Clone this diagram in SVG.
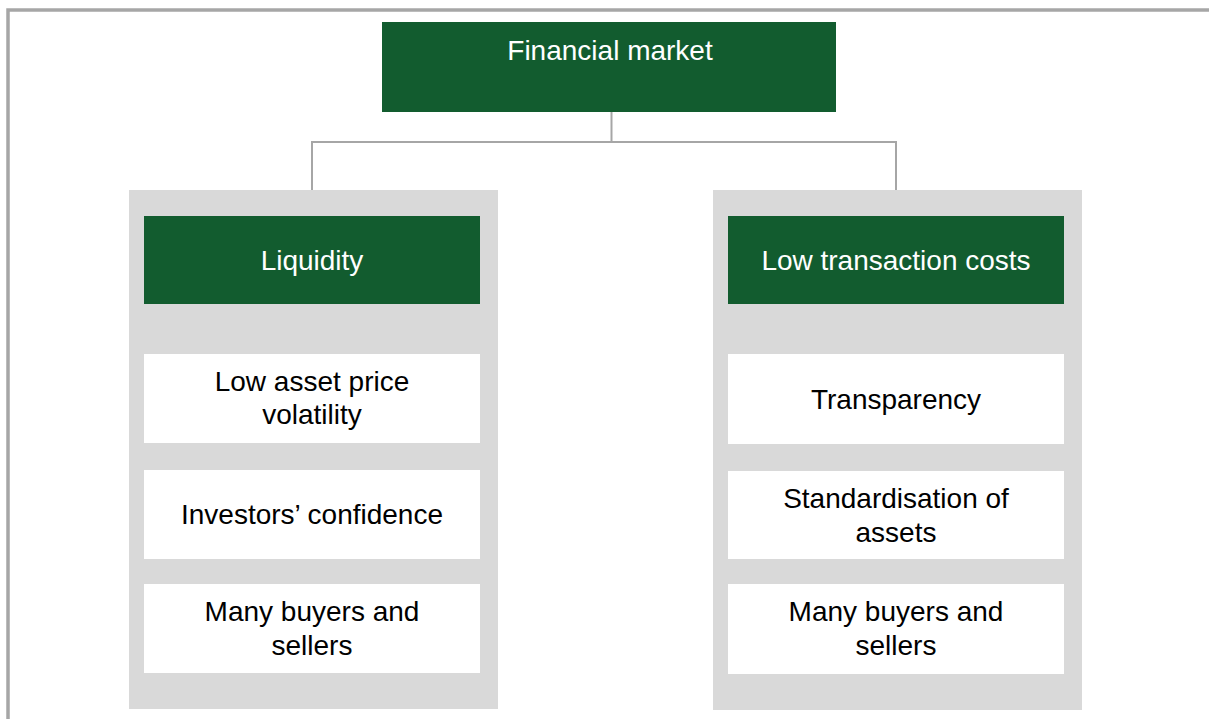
<svg xmlns="http://www.w3.org/2000/svg" width="1209" height="719" viewBox="0 0 1209 719">
<style>
.frame{fill:none;stroke:#a6a6a6;stroke-width:3.5}
.col{fill:#d9d9d9}
.hdr{fill:#125c2f}
.item{fill:#ffffff}
.conn{fill:none;stroke:#a6a6a6;stroke-width:2}
text{font-family:"Liberation Sans",Arial,sans-serif;font-size:28px;text-anchor:middle}
.w{fill:#ffffff}
.b{fill:#000000}
</style>
<rect width="1209" height="719" fill="#ffffff"/>
<path class="frame" d="M8,719 V10 H1212"/>
<g id="connectors">
<path class="conn" d="M611.5,112 V142"/>
<path class="conn" d="M312,190 V142 H896 V190"/>
</g>
<g id="financial-market">
<rect class="hdr" x="382" y="22" width="454" height="90"/>
<text class="w" x="610" y="60">Financial market</text>
</g>
<g id="liquidity-column">
<rect class="col" x="129" y="190" width="369" height="519"/>
</g>
<g id="liquidity">
<rect class="hdr" x="144" y="216" width="336" height="88"/>
<text class="w" x="312" y="270">Liquidity</text>
</g>
<g id="low-volatility">
<rect class="item" x="144" y="354" width="336" height="89"/>
<text class="b" x="312" y="391">Low asset price</text>
<text class="b" x="312" y="424">volatility</text>
</g>
<g id="investors-confidence">
<rect class="item" x="144" y="470" width="336" height="89"/>
<text class="b" x="312" y="524">Investors’ confidence</text>
</g>
<g id="many-buyers-left">
<rect class="item" x="144" y="584" width="336" height="89"/>
<text class="b" x="312" y="621">Many buyers and</text>
<text class="b" x="312" y="655">sellers</text>
</g>
<g id="costs-column">
<rect class="col" x="713" y="190" width="369" height="520"/>
</g>
<g id="low-transaction-costs">
<rect class="hdr" x="728" y="216" width="336" height="88"/>
<text class="w" x="896" y="270">Low transaction costs</text>
</g>
<g id="transparency">
<rect class="item" x="728" y="354" width="336" height="90"/>
<text class="b" x="896" y="409">Transparency</text>
</g>
<g id="standardisation">
<rect class="item" x="728" y="471" width="336" height="88"/>
<text class="b" x="896" y="508">Standardisation of</text>
<text class="b" x="896" y="542">assets</text>
</g>
<g id="many-buyers-right">
<rect class="item" x="728" y="584" width="336" height="90"/>
<text class="b" x="896" y="621">Many buyers and</text>
<text class="b" x="896" y="655">sellers</text>
</g>
</svg>
